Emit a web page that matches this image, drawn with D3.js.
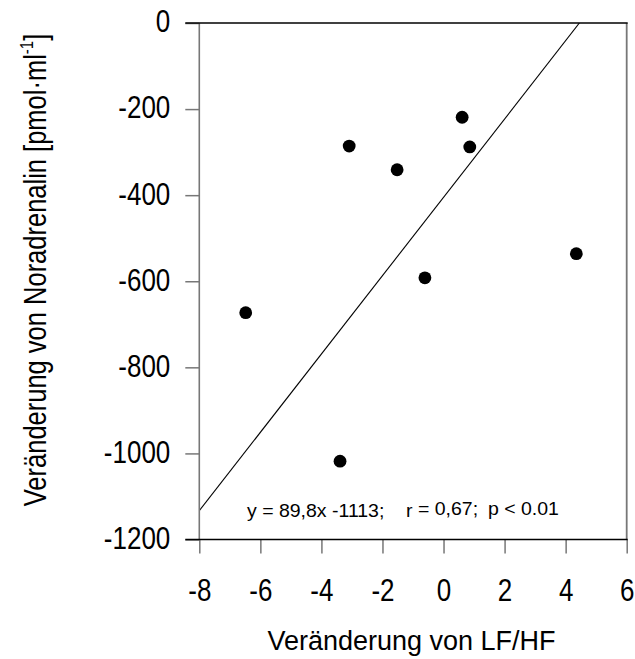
<!DOCTYPE html>
<html>
<head>
<meta charset="utf-8">
<script src="https://cdn.jsdelivr.net/npm/d3@7"></script>
<style>
  html, body { margin: 0; padding: 0; background: #fff; }
  svg { display: block; font-family: "Liberation Sans", Arial, Helvetica, sans-serif; }
</style>
</head>
<body>
<svg id="chart" width="635" height="659"></svg>
<script>
// ---- data ----
const xValues = [0.61, -3.09, 0.86, -1.52, 4.35, -0.61, -6.48, -3.39];
const yValues = [-219, -286, -288, -341, -536, -592, -673, -1018];
const xTicks = [-8, -6, -4, -2, 0, 2, 4, 6];
const yTicks = [0, -200, -400, -600, -800, -1000, -1200];
const xDomain = [-8, 6];
const yDomain = [-1200, 0];
const regressionSlope = 91;
const regressionIntercept = -405;
const equationParts = ["y = 89,8x -1113;", "r", "= 0,67;", "p < 0.01"];
const xTitle = "Veränderung von LF/HF";
const yTitleMain = "Veränderung von Noradrenalin [pmol·ml";
const yTitleSup = "-1";
const yTitleEnd = "]";

// ---- layout ----
const svg = d3.select("#chart");
const pLeft = 199.3, pRight = 626.7, pTop = 23, pBottom = 539.5;
const x = d3.scaleLinear().domain(xDomain).range([pLeft, pRight]);
const y = d3.scaleLinear().domain(yDomain).range([pBottom, pTop]);
const tickFont = 26;
const glyphStretch = 1.18;

// regression line (clipped to plot)
svg.append("defs").append("clipPath").attr("id", "clip")
  .append("rect").attr("x", pLeft).attr("y", pTop).attr("width", pRight - pLeft).attr("height", pBottom - pTop);
const xStart = xDomain[0];
const xEnd = (yDomain[1] - regressionIntercept) / regressionSlope;
svg.append("line")
  .attr("clip-path", "url(#clip)")
  .attr("x1", x(xStart)).attr("y1", y(regressionSlope * xStart + regressionIntercept))
  .attr("x2", x(xEnd)).attr("y2", y(regressionSlope * xEnd + regressionIntercept))
  .attr("stroke", "#000").attr("stroke-width", 1.1);

// frame: left & right gray
svg.append("line").attr("x1", pLeft).attr("x2", pLeft).attr("y1", pTop).attr("y2", pBottom)
  .attr("stroke", "#777").attr("stroke-width", 1.6);
svg.append("line").attr("x1", pRight).attr("x2", pRight).attr("y1", pTop).attr("y2", pBottom)
  .attr("stroke", "#777").attr("stroke-width", 1.8);

// y axis
const yAxis = d3.axisLeft(y).tickValues(yTicks).tickSize(14).tickPadding(15);
const gy = svg.append("g").attr("transform", `translate(${pLeft},0)`).call(yAxis);
gy.select(".domain").remove();
gy.selectAll(".tick line").attr("stroke", "#777").attr("stroke-width", 1.5);
gy.selectAll(".tick text").attr("font-size", tickFont).attr("fill", "#000")
  .attr("font-family", "Liberation Sans, Arial, sans-serif")
  .attr("dy", "0.29em").attr("transform", `scale(1,${glyphStretch})`)
  .text(d => String(d));

// x axis
const xAxis = d3.axisBottom(x).tickValues(xTicks).tickSize(14);
const gx = svg.append("g").attr("transform", `translate(0,${pBottom})`).call(xAxis);
gx.select(".domain").remove();
gx.selectAll(".tick line").attr("stroke", "#777").attr("stroke-width", 1.5);
gx.selectAll(".tick text").attr("font-size", tickFont).attr("fill", "#000")
  .attr("font-family", "Liberation Sans, Arial, sans-serif")
  .attr("y", 62 / glyphStretch).attr("dy", 0)
  .attr("transform", `scale(1,${glyphStretch})`)
  .text(d => String(d));

// top & bottom black lines extending left past the axis
svg.append("line").attr("x1", pLeft - 14).attr("x2", pRight + 1).attr("y1", pTop).attr("y2", pTop)
  .attr("stroke", "#000").attr("stroke-width", 1.6);
svg.append("line").attr("x1", pLeft - 14).attr("x2", pRight + 1).attr("y1", pBottom).attr("y2", pBottom)
  .attr("stroke", "#000").attr("stroke-width", 1.6);

// points
svg.append("g").selectAll("circle")
  .data(xValues.map((v, i) => [v, yValues[i]]))
  .join("circle")
  .attr("cx", d => x(d[0])).attr("cy", d => y(d[1]))
  .attr("r", 6.4).attr("fill", "#000");

// equation
const eqPos = [[247, 517, 19.5], [406, 517, 19.5], [418, 515.5, 19.5], [488, 515.5, 19.5]];
svg.append("g").selectAll("text")
  .data(equationParts)
  .join("text")
  .attr("x", (d, i) => eqPos[i][0]).attr("y", (d, i) => eqPos[i][1])
  .attr("font-size", (d, i) => eqPos[i][2]).attr("fill", "#000")
  .attr("transform", (d, i) => `translate(0,${eqPos[i][1]}) scale(1,0.92) translate(0,${-eqPos[i][1]})`)
  .text(d => d);

// x title
svg.append("text").attr("x", 411.5).attr("y", 650)
  .attr("text-anchor", "middle").attr("font-size", 27).attr("fill", "#000")
  .text(xTitle);

// y title
const yt = svg.append("text")
  .attr("transform", `translate(46,270) rotate(-90) scale(1,1.22)`)
  .attr("text-anchor", "middle").attr("font-size", 25.5).attr("fill", "#000");
yt.append("tspan").text(yTitleMain);
yt.append("tspan").attr("font-size", 15).attr("dy", -11).text(yTitleSup);
yt.append("tspan").attr("dy", 11).text(yTitleEnd);
</script>
</body>
</html>
